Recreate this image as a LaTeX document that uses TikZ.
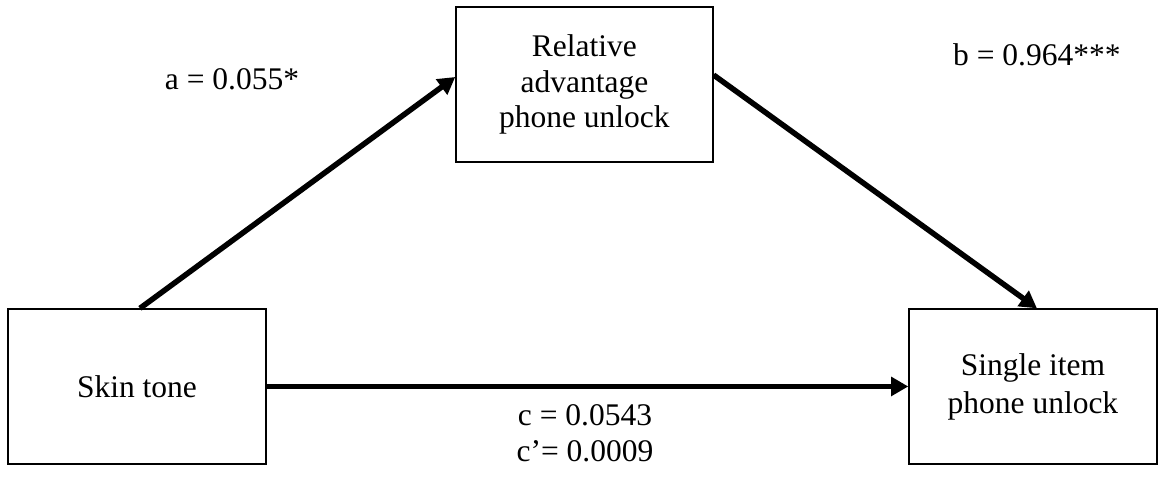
\documentclass[tikz,border=0pt]{standalone}
\usepackage{fontspec}
\setmainfont{Liberation Serif}
\usetikzlibrary{arrows.meta}

\begin{document}
\begin{tikzpicture}[font=\fontsize{12}{13.5}\selectfont,
varbox/.style={draw, line width=0.5pt, align=center, minimum height=2.075cm},
patharrow/.style={line width=2.1pt, -{Triangle[length=6.5pt, width=7pt]}}]

\useasboundingbox (0, 0) rectangle (15.52, -6.455);

%variables
\node[varbox, minimum width=3.455cm] (skin) at (1.834, -5.175) {Skin tone};
\node[varbox, minimum width=3.441cm] (relative) at (7.826, -1.131) {Relative\\advantage\\phone unlock};
\node[varbox, minimum width=3.321cm, font=\fontsize{12}{14.5}\selectfont] (single) at (13.832, -5.175) {Single item\\phone unlock};

%paths
\draw[patharrow] ([xshift=0.04cm]skin.north) -- ([yshift=0.10cm]relative.west);
\draw[patharrow] ([yshift=0.127cm]relative.east) -- ([xshift=0.054cm]single.north);
\draw[patharrow] (skin.east) -- (single.west);

%coefficients
\node (a) at (3.106, -1.058) {a = 0.055*};
\node (b) at (13.885, -0.736) {b = 0.964***};
\node[align=center] (c) at (7.833, -5.8) {c = 0.0543\\c’= 0.0009};

\end{tikzpicture}
\end{document}
